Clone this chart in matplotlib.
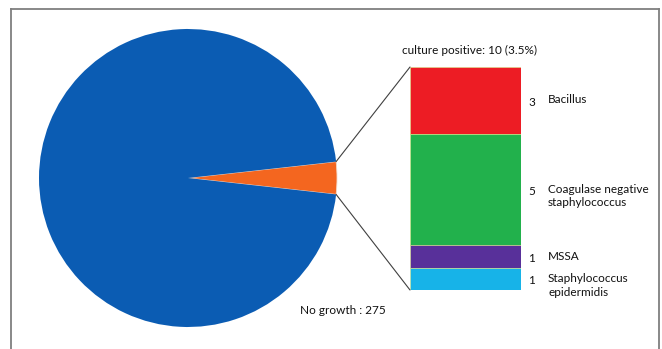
import matplotlib.pyplot as plt
from matplotlib.patches import ConnectionPatch
from matplotlib.lines import Line2D
import numpy as np

plt.rcParams['font.family'] = ['Lato', 'DejaVu Sans']

# overall split of the samples
pie_labels = ['culture positive', 'No growth']
pie_counts = [10, 275]
pie_colors = ['#F4661F', '#0B5CB3']

# organisms among the positive cultures (top to bottom)
organisms = ['Bacillus', 'Coagulase negative\nstaphylococcus', 'MSSA',
             'Staphylococcus\nepidermidis']
organism_counts = [3, 5, 1, 1]
organism_colors = ['#ED1C24', '#22B14C', '#58309A', '#17B3E8']

W, H = 662, 349
fig = plt.figure(figsize=(W / 100, H / 100), dpi=100)
fig.patch.set_facecolor('white')


def px_box(x0, y0, x1, y1):
    # pixel box (top-left origin) -> figure fraction rect
    return [x0 / W, 1 - y1 / H, (x1 - x0) / W, (y1 - y0) / H]


# pie
ax_pie = fig.add_axes(px_box(39, 29, 337, 327))
half = 360 * pie_counts[0] / sum(pie_counts) / 2
wedges, _ = ax_pie.pie(pie_counts, colors=pie_colors, startangle=-half,
                       counterclock=True, radius=1,
                       wedgeprops=dict(linewidth=0.6, edgecolor='#f3d9c8'))
wedges[1].set_edgecolor('none')
ax_pie.set_xlim(-1, 1)
ax_pie.set_ylim(-1, 1)
ax_pie.set_aspect('equal')
ax_pie.axis('off')

# stacked bar of positives
ax_bar = fig.add_axes(px_box(410, 67, 521, 290))
total = sum(organism_counts)
top = total
for name, n, c in zip(organisms, organism_counts, organism_colors):
    ax_bar.bar(0, n, bottom=top - n, width=1, color=c,
               edgecolor='#d8e68a', linewidth=0.4)
    mid = top - n / 2
    ax_bar.annotate(str(n), xy=(0.5, mid), xytext=(5, -1.2),
                    textcoords='offset points', va='center', ha='left',
                    fontsize=8.5, color='#111111', annotation_clip=False)
    ax_bar.annotate(name, xy=(0.5, mid), xytext=(19.5, 4.3),
                    textcoords='offset points', va='top', ha='left',
                    fontsize=8.5, linespacing=1.3, color='#111111',
                    annotation_clip=False)
    top -= n
ax_bar.set_xlim(-0.5, 0.5)
ax_bar.set_ylim(0, total)
ax_bar.axis('off')

pct = 100 * pie_counts[0] / sum(pie_counts)
ax_bar.text(0.54, 1.075, f'{pie_labels[0]}: {pie_counts[0]} ({pct:.1f}%)',
            transform=ax_bar.transAxes, ha='center', va='center',
            fontsize=8.5, color='#111111')

# connector lines from wedge edge to bar corners
theta = np.deg2rad(half)
for sign, ybar in [(1, total), (-1, 0)]:
    con = ConnectionPatch(xyA=(np.cos(theta), sign * np.sin(theta)), coordsA=ax_pie.transData,
                          xyB=(-0.5, ybar), coordsB=ax_bar.transData,
                          color='#404040', linewidth=0.8)
    fig.add_artist(con)

fig.text(300 / W, 1 - 310 / H, f'{pie_labels[1]} : {pie_counts[1]}',
         ha='left', va='center', fontsize=8.5, color='#111111')

# outer frame (open at the bottom)
frame = dict(color='#7f7f7f', linewidth=1.3)
fig.add_artist(Line2D([11 / W, 11 / W], [0, 1 - 9 / H], **frame))
fig.add_artist(Line2D([11 / W, 659 / W], [1 - 9 / H, 1 - 9 / H], **frame))
fig.add_artist(Line2D([659 / W, 659 / W], [0, 1 - 9 / H], **frame))

fig.savefig('out.png', dpi=100)
